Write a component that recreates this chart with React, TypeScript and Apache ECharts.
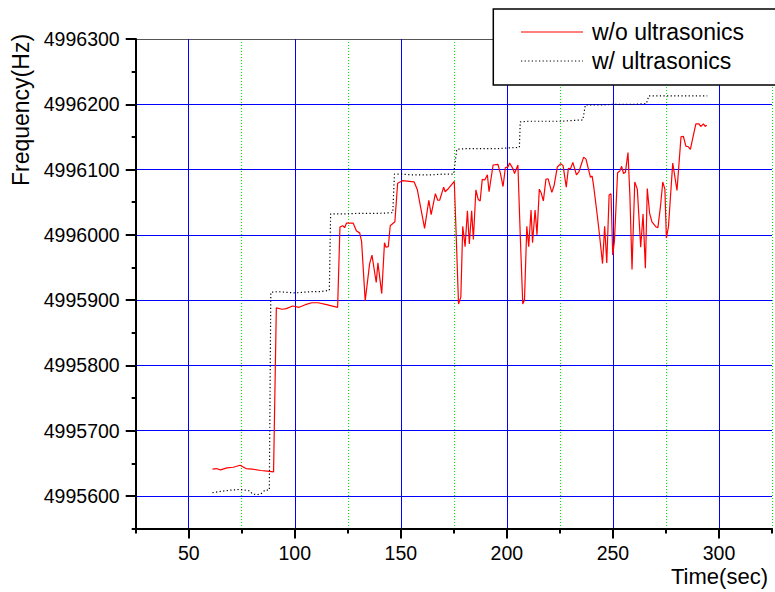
import React, { useEffect, useRef } from "react";
import * as echarts from "echarts";

// ---- data ----
const timeWo = [
  61.2, 63, 65, 68, 71, 74.2, 77, 80, 84, 87, 90.0,
  91.3, 94, 96, 99, 102, 105, 108, 111, 115, 120.2,
  121.3, 122.6, 123.5, 124.4, 127.5, 129.1, 130.6, 131.5, 133.2, 135.3, 136.4, 138.4, 139.2, 141, 142.3, 143, 144.1, 145, 147.2,
  148.5, 150.8, 156.3, 157.8, 159.3, 161.2, 163.2, 164.3, 166.3, 167.4, 168.3, 170.2, 170.9, 172.5, 175.2,
  176.1, 177.2, 178.3, 179.2, 180.3, 181.4, 182.3, 183.4, 184.2, 185.4, 186.5, 187.4, 188.4, 189.6, 190.8, 191.6, 193.5, 195.8, 196.9, 198.2, 199.3, 200.5, 201.3, 202.9, 203.6, 205.2,
  206.3, 207.5, 208.3, 209.4, 210.3, 211.4, 212.1, 213.3, 214.2, 215.3, 216.2, 217.2, 218.4, 219.4, 221.2, 222.3, 223.8, 225.4, 226.5, 228, 229, 230, 231.1, 232.8, 234, 236.2, 237.3, 239.4, 240.2, 240.9,
  242.5, 243.6, 245.1, 246.1, 247.1, 248.2, 249.1, 249.9, 250.7, 252.2, 253.3, 254.1, 255, 255.9, 257.1, 258, 259, 260.3, 261.5, 263.1, 264.2, 265.3, 266.2, 267.3, 268.4, 270.4, 271.2, 272.5, 273.5, 274.5, 275.2, 276.2,
  278.2, 280.2, 282.1, 283.2, 284.4, 285.5, 286.5, 289.1, 290.6, 291.4, 292.7, 293.5, 294.2,
];
const freqWo = [
  4995641, 4995642, 4995640, 4995643, 4995644, 4995647, 4995642, 4995641, 4995639, 4995638, 4995637,
  4995888, 4995886, 4995887, 4995891, 4995889, 4995893, 4995896, 4995896, 4995893, 4995889,
  4996012, 4996014, 4996011, 4996018, 4996018, 4996006, 4996003, 4995990, 4995899, 4995956, 4995969, 4995927, 4995957, 4995910, 4995988, 4995981, 4995982, 4996014, 4996020,
  4996079, 4996083, 4996081, 4996069, 4996043, 4996010, 4996053, 4996031, 4996063, 4996053, 4996053, 4996073, 4996066, 4996071, 4996082,
  4996000, 4995894, 4995905, 4996013, 4995982, 4996037, 4995986, 4996037, 4995993, 4996069, 4996054, 4996052, 4996085, 4996084, 4996092, 4996066, 4996107, 4996108, 4996095, 4996074, 4996103, 4996104, 4996110, 4996101, 4996094, 4996107,
  4996000, 4995894, 4995900, 4996013, 4995982, 4996038, 4995988, 4996038, 4996000, 4996070, 4996064, 4996052, 4996085, 4996086, 4996065, 4996076, 4996104, 4996109, 4996106, 4996073, 4996102, 4996101, 4996111, 4996092, 4996097, 4996119, 4996116, 4996088, 4996090, 4996075,
  4996033, 4996002, 4995956, 4996013, 4995957, 4996061, 4996063, 4995969, 4995990, 4996095, 4996098, 4996105, 4996094, 4996096, 4996126, 4996060, 4995947, 4996081, 4996070, 4995981, 4996032, 4995949, 4996071, 4996033, 4996020, 4996012, 4996011, 4996046, 4996081, 4996070, 4995995, 4996013,
  4996110, 4996068, 4996150, 4996151, 4996136, 4996135, 4996131, 4996170, 4996170, 4996166, 4996170, 4996166, 4996168,
];
const timeW = [
  61.2, 65, 70, 74, 78.6, 80.1, 82, 84, 86, 88,
  88.7, 92, 96, 100, 104, 108, 112, 116.3,
  116.9, 120, 125, 130, 135, 140, 146.2,
  147, 150, 155, 160, 165, 170, 174.9,
  176.4, 180, 185, 190, 195, 200, 205.9,
  206.3, 210, 215, 220, 225, 230, 235.8,
  237, 240, 245, 250, 255, 260, 265.8,
  266.9, 270, 275, 280, 285, 290, 294.5,
];
const freqW = [
  4995605, 4995607, 4995609, 4995610, 4995608, 4995603, 4995602, 4995603, 4995609, 4995609,
  4995912, 4995913, 4995912, 4995911, 4995912, 4995913, 4995913, 4995915,
  4996032, 4996032, 4996032, 4996033, 4996033, 4996033, 4996034,
  4996093, 4996093, 4996092, 4996092, 4996092, 4996093, 4996093,
  4996131, 4996132, 4996132, 4996132, 4996132, 4996133, 4996134,
  4996173, 4996174, 4996174, 4996174, 4996174, 4996175, 4996176,
  4996199, 4996199, 4996199, 4996200, 4996200, 4996200, 4996201,
  4996213, 4996213, 4996213, 4996213, 4996213, 4996213, 4996213,
];
const seriesNames = ["w/o ultrasonics", "w/ ultrasonics"];
const xMajorTicks = [50, 100, 150, 200, 250, 300];
const yMajorTicks = [4995600, 4995700, 4995800, 4995900, 4996000, 4996100, 4996200, 4996300];
const xAxisName = "Time(sec)";
const yAxisName = "Frequency(Hz)";

const X_MIN = 25, X_MAX = 325, X_STEP = 25;
const Y_MIN = 4995550, Y_MAX = 4996300, Y_STEP = 50;

const FONT = "'Liberation Sans', Arial, Helvetica, sans-serif";

export default function App() {
  const ref = useRef<HTMLDivElement>(null);
  useEffect(() => {
    if (!ref.current) return;
    const chart = echarts.init(ref.current, undefined, { renderer: "svg" });

    const ySplitColors: string[] = [];
    for (let v = Y_MIN; v <= Y_MAX; v += Y_STEP) {
      ySplitColors.push(v === Y_MAX ? "#555555" : v % 100 === 0 ? "#0000ff" : "rgba(0,0,0,0)");
    }

    const dataWo = timeWo.map((t, i) => [t, freqWo[i]]);
    const dataW = timeW.map((t, i) => [t, freqW[i]]);

    const baseX = {
      type: "value" as const,
      min: X_MIN,
      max: X_MAX,
      interval: X_STEP,
      position: "bottom" as const,
      gridIndex: 0,
    };
    const baseY = {
      type: "value" as const,
      min: Y_MIN,
      max: Y_MAX,
      interval: Y_STEP,
      position: "left" as const,
      gridIndex: 0,
    };

    chart.setOption({
      animation: false,
      backgroundColor: "#ffffff",
      grid: { left: 135.7, top: 39, right: -3.6, bottom: 63.4, containLabel: false },
      xAxis: [
        {
          ...baseX,
          axisLine: { show: true, onZero: false, lineStyle: { color: "#000", width: 2 } },
          axisTick: { show: true, inside: false, length: 5, lineStyle: { color: "#000", width: 2 } },
          axisLabel: {
            show: true,
            margin: 16.4,
            fontSize: 19.5,
            lineHeight: 16,
            fontFamily: FONT,
            color: "#000",
            formatter: (v: number) => (v % 50 === 0 ? String(v) : ""),
          },
          splitLine: {
            show: true,
            lineStyle: { color: ["rgba(0,0,0,0)", "#0000ff"], width: 1, type: "solid" },
          },
          z: 3,
        },
        {
          ...baseX,
          axisLine: { show: false, onZero: false },
          axisTick: { show: false },
          axisLabel: { show: false },
          splitLine: {
            show: true,
            lineStyle: { color: ["#00ee00", "rgba(0,0,0,0)"], width: 1, type: [1, 2] },
          },
        },
        {
          ...baseX,
          axisLine: { show: false, onZero: false },
          axisTick: {
            show: true,
            inside: false,
            length: 10,
            customValues: xMajorTicks,
            lineStyle: { color: "#000", width: 2 },
          },
          axisLabel: { show: false },
          splitLine: { show: false },
        },
      ],
      yAxis: [
        {
          ...baseY,
          axisLine: { show: true, onZero: false, lineStyle: { color: "#000", width: 2 } },
          axisTick: { show: true, inside: false, length: 4, lineStyle: { color: "#000", width: 2 } },
          axisLabel: {
            show: true,
            margin: 16,
            fontSize: 19.5,
            fontFamily: FONT,
            color: "#000",
            showMaxLabel: true,
            showMinLabel: true,
            formatter: (v: number) => (Math.round(v) % 100 === 0 ? String(Math.round(v)) : ""),
          },
          splitLine: { show: true, lineStyle: { color: ySplitColors, width: 1, type: "solid" } },
          z: 3,
        },
        {
          ...baseY,
          axisLine: { show: false, onZero: false },
          axisTick: {
            show: true,
            inside: false,
            length: 10,
            customValues: yMajorTicks,
            lineStyle: { color: "#000", width: 2 },
          },
          axisLabel: { show: false },
          splitLine: { show: false },
        },
      ],
      series: [
        {
          name: seriesNames[0],
          type: "line",
          xAxisIndex: 0,
          yAxisIndex: 0,
          data: dataWo,
          showSymbol: false,
          symbol: "none",
          lineStyle: { color: "#ff0000", width: 1.2 },
          z: 5,
        },
        {
          name: seriesNames[1],
          type: "line",
          xAxisIndex: 0,
          yAxisIndex: 0,
          data: dataW,
          showSymbol: false,
          symbol: "none",
          lineStyle: { color: "#000000", width: 1.2, type: [1.2, 2.4] },
          z: 4,
        },
      ],
      graphic: [
        {
          type: "rect",
          z: 100,
          shape: { x: 493.3, y: 9, width: 300, height: 76 },
          style: { fill: "#ffffff", stroke: "#000000", lineWidth: 1.5 },
        },
        {
          type: "line",
          z: 101,
          shape: { x1: 521, y1: 32, x2: 583, y2: 32 },
          style: { stroke: "#ff0000", lineWidth: 1.2 },
        },
        {
          type: "line",
          z: 101,
          shape: { x1: 521, y1: 61, x2: 583, y2: 61 },
          style: { stroke: "#000000", lineWidth: 1.2, lineDash: [1.2, 2.4] },
        },
        {
          type: "text",
          z: 101,
          x: 592,
          y: 32,
          style: {
            text: seriesNames[0],
            fontSize: 23,
            fontFamily: FONT,
            fill: "#000",
            textAlign: "left",
            textVerticalAlign: "middle",
          },
        },
        {
          type: "text",
          z: 101,
          x: 592,
          y: 61,
          style: {
            text: seriesNames[1],
            fontSize: 23,
            fontFamily: FONT,
            fill: "#000",
            textAlign: "left",
            textVerticalAlign: "middle",
          },
        },
        {
          type: "text",
          z: 101,
          x: 671,
          y: 576.9,
          style: {
            text: xAxisName,
            fontSize: 22,
            lineHeight: 18,
            fontFamily: FONT,
            fill: "#000",
            textAlign: "left",
            textVerticalAlign: "middle",
          },
        },
        {
          type: "text",
          z: 101,
          x: 21,
          y: 110,
          rotation: Math.PI / 2,
          style: {
            text: yAxisName,
            fontSize: 23,
            fontFamily: FONT,
            fill: "#000",
            textAlign: "center",
            textVerticalAlign: "middle",
          },
        },
      ],
    });

    return () => {
      chart.dispose();
    };
  }, []);

  return (
    <div
      ref={ref}
      style={{ position: "fixed", left: 0, top: 0, width: 775, height: 592, background: "#fff" }}
    />
  );
}
